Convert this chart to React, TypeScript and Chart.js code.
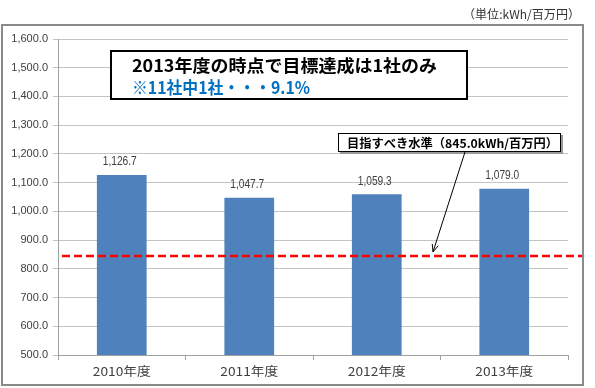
import React, { useEffect, useRef } from "react";
import { Chart, registerables } from "chart.js";

Chart.register(...registerables);

const categories = ["2010年度", "2011年度", "2012年度", "2013年度"];
const values = [1126.7, 1047.7, 1059.3, 1079.0];
const targetValue = 845.0;
const yMin = 500;
const yMax = 1600;
const yStep = 100;
const unitLabel = "（単位:kWh/百万円）";
const headline = "2013年度の時点で目標達成は1社のみ";
const subline = "※11社中1社・・・9.1%";
const targetLabel = "目指すべき水準（845.0kWh/百万円）";

const JP = '"Noto Sans CJK JP", "Noto Sans", sans-serif';
const LAT = '"Liberation Sans", Arial, sans-serif';

const fmt = (v: number) =>
  v.toLocaleString("en-US", { minimumFractionDigits: 1, maximumFractionDigits: 1 });

// draw text stretched/compressed horizontally to a given width, left-aligned at x
function fitText(ctx: any, text: string, x: number, y: number, width: number) {
  const w = ctx.measureText(text).width;
  const s = width / w;
  ctx.save();
  ctx.textAlign = "left";
  ctx.translate(x, y);
  ctx.scale(s, 1);
  ctx.fillText(text, 0, 0);
  ctx.restore();
}

const decorPlugin = {
  id: "decor",
  beforeDraw(chart: any) {
    const ctx = chart.ctx;
    ctx.save();
    ctx.fillStyle = "#ffffff";
    ctx.fillRect(0, 0, chart.width, chart.height);
    ctx.strokeStyle = "#8a8a8a";
    ctx.lineWidth = 2;
    ctx.strokeRect(2, 25, 581, 360);
    ctx.fillStyle = "#333333";
    ctx.font = `12px ${JP}`;
    ctx.textBaseline = "middle";
    fitText(ctx, unitLabel, 463, 14, 117);
    ctx.restore();
  },
  afterDatasetsDraw(chart: any) {
    const ctx = chart.ctx;
    const meta = chart.getDatasetMeta(0);
    ctx.save();
    ctx.fillStyle = "#404040";
    ctx.font = `12px ${LAT}`;
    ctx.textBaseline = "middle";
    meta.data.forEach((el: any, i: number) => {
      fitText(ctx, fmt(values[i]), el.x - 19, el.y - 13, 34);
    });
    // category labels
    ctx.font = `12px ${JP}`;
    ctx.fillStyle = "#404040";
    const xs = chart.scales.x;
    categories.forEach((c, i) => {
      const cx = xs.getPixelForValue(i);
      fitText(ctx, c, cx - 29, 371, 58);
    });
    // target line
    const y = chart.scales.y.getPixelForValue(targetValue);
    ctx.strokeStyle = "#ff0000";
    ctx.lineWidth = 2.5;
    ctx.setLineDash([8, 4]);
    ctx.beginPath();
    ctx.moveTo(chart.chartArea.left + 4, y);
    ctx.lineTo(582, y);
    ctx.stroke();
    ctx.setLineDash([]);
    ctx.restore();
  },
  afterDraw(chart: any) {
    const ctx = chart.ctx;
    ctx.save();
    // headline box
    ctx.fillStyle = "#ffffff";
    ctx.fillRect(111, 51, 356, 48);
    ctx.strokeStyle = "#000000";
    ctx.lineWidth = 2;
    ctx.strokeRect(111, 51, 356, 48);
    ctx.textBaseline = "middle";
    ctx.font = `bold 17px ${JP}`;
    ctx.fillStyle = "#000000";
    fitText(ctx, headline, 132, 66, 305);
    ctx.fillStyle = "#0070c0";
    fitText(ctx, subline, 132, 88, 178);

    // target label box
    ctx.fillStyle = "#9a9a9a";
    ctx.fillRect(340, 135, 223, 19);
    ctx.fillStyle = "#ffffff";
    ctx.fillRect(338, 133, 223, 19);
    ctx.strokeStyle = "#000000";
    ctx.lineWidth = 1;
    ctx.strokeRect(338.5, 133.5, 222, 18);
    ctx.fillStyle = "#000000";
    ctx.font = `bold 12px ${JP}`;
    fitText(ctx, targetLabel, 347, 143, 211);

    // arrow
    const yT = chart.scales.y.getPixelForValue(targetValue);
    const x1 = 465, y1 = 152, x2 = 433, y2 = yT - 4;
    ctx.strokeStyle = "#000000";
    ctx.lineWidth = 1;
    ctx.beginPath();
    ctx.moveTo(x1, y1);
    ctx.lineTo(x2, y2);
    ctx.stroke();
    const ang = Math.atan2(y2 - y1, x2 - x1);
    const hl = 8;
    ctx.beginPath();
    ctx.moveTo(x2 - hl * Math.cos(ang - 0.4), y2 - hl * Math.sin(ang - 0.4));
    ctx.lineTo(x2, y2);
    ctx.lineTo(x2 - hl * Math.cos(ang + 0.4), y2 - hl * Math.sin(ang + 0.4));
    ctx.stroke();
    ctx.restore();
  },
};

export default function App() {
  const ref = useRef<HTMLCanvasElement>(null);
  useEffect(() => {
    if (!ref.current) return;
    const chart = new Chart(ref.current, {
      type: "bar",
      data: {
        labels: categories,
        datasets: [
          {
            data: values,
            backgroundColor: "#4f81bd",
            borderWidth: 0,
            barPercentage: 0.78,
            categoryPercentage: 0.5,
          },
        ],
      },
      options: {
        responsive: false,
        animation: false,
        devicePixelRatio: 1,
        layout: { padding: { top: 39, right: 27, left: 0, bottom: 0 } },
        plugins: { legend: { display: false }, tooltip: { enabled: false } },
        scales: {
          x: {
            offset: true,
            grid: { display: true, drawOnChartArea: false, tickLength: 5, color: "#a0a0a0", offset: true },
            border: { display: true, color: "#a0a0a0", width: 1 },
            ticks: { display: false },
            afterFit: (s: any) => { s.height = 33; },
          },
          y: {
            min: yMin,
            max: yMax,
            ticks: {
              stepSize: yStep,
              color: "#404040",
              font: { size: 11, family: LAT },
              padding: 5,
              callback: (v: any) => fmt(Number(v)),
            },
            grid: { color: "#c4c4c4", tickLength: 5, lineWidth: 1 },
            border: { display: true, color: "#a0a0a0", width: 1 },
            afterFit: (s: any) => { s.width = 58; },
          },
        },
      },
      plugins: [decorPlugin],
    });
    return () => chart.destroy();
  }, []);
  return (
    <div style={{ position: "fixed", left: 0, top: 0, width: 595, height: 388 }}>
      <canvas ref={ref} width={595} height={388} style={{ width: 595, height: 388 }} />
    </div>
  );
}
